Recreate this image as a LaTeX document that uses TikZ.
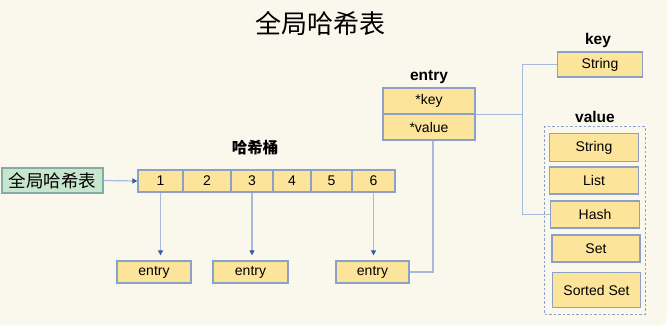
\documentclass[tikz,border=0pt]{standalone}
\usepackage{fontspec}
\setmainfont{Liberation Sans}
\newfontfamily\cjk{Noto Sans CJK SC}
\usetikzlibrary{arrows.meta, positioning, fit, calc}
\definecolor{paper}{RGB}{250,247,236}
\definecolor{boxfill}{RGB}{253,228,155}
\definecolor{boxline}{RGB}{140,160,200}
\definecolor{linkblue}{RGB}{165,186,220}
\definecolor{tipblue}{RGB}{55,90,165}
\definecolor{greenfill}{RGB}{200,229,205}
\definecolor{greenline}{RGB}{130,172,165}

\begin{document}
\begin{tikzpicture}[
    x=1pt, y=-1pt,
    cell/.style={rectangle, draw=boxline, fill=boxfill, line width=1.3pt, inner sep=0pt, font=\fontsize{14}{16}\selectfont},
    head/.style={font=\fontsize{15.5}{18}\selectfont\bfseries},
    group/.style={rectangle, draw=boxline, line width=1pt, dash pattern=on 2.5pt off 2pt, inner sep=0pt},
    link/.style={draw=linkblue, line width=1.2pt},
    arrow/.style={link, -{Triangle[length=5pt, width=5pt, color=tipblue]}},
]
\useasboundingbox (0,0) rectangle (672,331);
\fill[white] (0,0) rectangle (672,331);
\fill[paper, rounded corners=8pt] (-12,-12) rectangle (667,325);

% Title
\node[font=\cjk\fontsize{26}{30}\selectfont] (title) at (320,24) {全局哈希表};

% Global hash table and buckets
\node[cell, fill=greenfill, draw=greenline, minimum width=101pt, minimum height=25pt, font=\cjk\fontsize{17.5}{20}\selectfont] (global) at (52.5,180.5) {全局哈希表};
\node[cell, minimum width=45pt, minimum height=22pt] (b1) at (160.5,181) {1};
\node[cell, minimum width=48pt, minimum height=22pt] (b2) at (207,181) {2};
\node[cell, minimum width=42pt, minimum height=22pt] (b3) at (252,181) {3};
\node[cell, minimum width=38pt, minimum height=22pt] (b4) at (292,181) {4};
\node[cell, minimum width=41pt, minimum height=22pt] (b5) at (331.5,181) {5};
\node[cell, minimum width=43pt, minimum height=22pt] (b6) at (373.5,181) {6};
\node[font=\cjk\fontsize{15.5}{18}\selectfont\bfseries] (bucketlbl) at (255,148) {哈希桶};

% Bucket entries
\node[cell, minimum width=74pt, minimum height=22pt] (e1) at (154,272) {entry};
\node[cell, minimum width=75pt, minimum height=22pt] (e2) at (250.5,272) {entry};
\node[cell, minimum width=73pt, minimum height=22pt] (e3) at (372.5,272) {entry};

% Entry record
\node[cell, minimum width=92pt, minimum height=26pt] (ekey) at (429,101) {*key};
\node[cell, minimum width=92pt, minimum height=26pt] (eval) at (429,127) {*value};
\node[head] (entrylbl) at (429,77) {entry};

% Key and value types
\node[cell, minimum width=85pt, minimum height=25pt] (kstr) at (600,64.5) {String};
\node[head] (keylbl) at (598,40) {key};
\node[cell, minimum width=89pt, minimum height=28pt] (vstr) at (594,147.5) {String};
\node[cell, minimum width=89pt, minimum height=27pt] (vlist) at (594,180.5) {List};
\node[cell, minimum width=89pt, minimum height=27pt] (vhash) at (595,214.5) {Hash};
\node[cell, minimum width=88pt, minimum height=27pt] (vset) at (596,248.5) {Set};
\node[cell, minimum width=88pt, minimum height=35pt] (vsorted) at (596.5,290) {Sorted Set};
\node[group, fit=(vstr)(vsorted), inner xsep=4pt, inner ysep=6pt] (vgroup) {};
\node[head, above=0pt of vgroup] (valuelbl) {value};

% Connectors
\draw[arrow] (global.east) -- (b1.west);
\draw[arrow, shorten >=5pt] (b1.south) -- (b1.south |- e1.north);
\draw[arrow, shorten >=5pt] (b3.south) -- (b3.south |- e2.north);
\draw[arrow, shorten >=5pt] (b6.south) -- (b6.south |- e3.north);
\draw[link] (e3.east) -| ($(eval.south)+(4,0)$);
\coordinate (fork) at ($(ekey.south east)+(47,0)$);
\draw[link] (ekey.south east) -- (fork);
\draw[link] (kstr.west) -| (fork) |- (vhash.west);

\end{tikzpicture}
\end{document}
